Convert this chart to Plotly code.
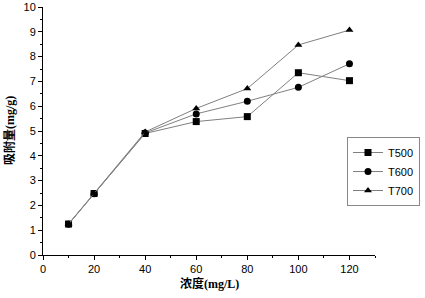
import plotly.graph_objects as go

x = [10, 20, 40, 60, 80, 100, 120]
t500 = [1.25, 2.48, 4.90, 5.38, 5.58, 7.35, 7.03]
t600 = [1.24, 2.47, 4.92, 5.69, 6.20, 6.76, 7.71]
t700 = [1.25, 2.48, 4.96, 5.91, 6.71, 8.47, 9.07]
names = ["T500", "T600", "T700"]
symbols = ["square", "circle", "triangle-up"]

W, H = 425, 298
L, R, T, B = 43, 50, 7, 43
pw, ph = W - L - R, H - T - B

fig = go.Figure()
for name, ys, sym in zip(names, [t500, t600, t700], symbols):
    fig.add_trace(go.Scatter(
        x=x, y=ys, name=name, mode="lines+markers",
        line=dict(color="#808080", width=1),
        marker=dict(symbol=sym, color="black", size=7),
    ))

axis_common = dict(
    showline=True, linecolor="black", linewidth=1,
    ticks="outside", ticklen=4, tickcolor="black",
    showgrid=False, zeroline=False, automargin=False,
    tickfont=dict(family="Liberation Sans, Arial", size=11, color="black"),
    minor=dict(ticks="outside", ticklen=2, tickcolor="black"),
)

title_font = dict(family="Liberation Serif, Noto Sans CJK SC", size=12, color="black", weight="bold")

fig.update_layout(
    width=W, height=H,
    margin=dict(l=L, r=R, t=T, b=B, autoexpand=False),
    plot_bgcolor="white", paper_bgcolor="white",
    xaxis=dict(range=[0, 130], dtick=20, minor_dtick=10, **axis_common),
    yaxis=dict(range=[0, 10], dtick=1, minor_dtick=0.5, **axis_common),
    legend=dict(x=(420 - L) / pw, y=1 - (137 - T) / ph, xanchor="right", yanchor="top",
                bordercolor="#888", borderwidth=1, bgcolor="white",
                font=dict(family="Liberation Sans, Arial", size=11, color="black"),
                tracegroupgap=0, itemwidth=30),
    showlegend=True,
    annotations=[
        dict(text="浓度(mg/L)", xref="paper", yref="paper",
             x=(209 - L) / pw, y=-(283 - (H - B)) / ph, xanchor="center", yanchor="middle",
             showarrow=False, font=title_font),
        dict(text="吸附量(mg/g)", xref="paper", yref="paper", textangle=-90,
             x=-(L - 10) / pw, y=1 - (131 - T) / ph, xanchor="center", yanchor="middle",
             showarrow=False, font=title_font),
    ],
)

fig.write_html("out.html", config={"displayModeBar": False},
               post_script="document.body.style.margin='0';document.body.style.padding='0';")
